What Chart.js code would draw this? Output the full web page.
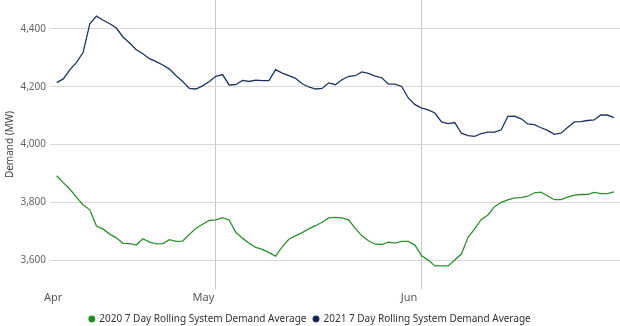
<!DOCTYPE html>
<html>
<head>
<meta charset="utf-8">
<style>
  html, body { margin: 0; padding: 0; background: #ffffff; }
  #wrap { width: 620px; height: 326px; }
</style>
<script src="https://cdn.jsdelivr.net/npm/chart.js@4.4.1/dist/chart.umd.min.js"></script>
</head>
<body>
<div id="wrap"><canvas id="chart" width="620" height="326"></canvas></div>
<script>
// Daily series start on Apr 7; x positions are days counted from Apr 1.
const firstDay = 6;

const demand2020 = [
  3892, 3868, 3845, 3818, 3791, 3774, 3718, 3707, 3690, 3677,
  3658, 3657, 3652, 3674, 3662, 3656, 3657, 3671, 3665, 3666,
  3689, 3710, 3724, 3737, 3739, 3747, 3739, 3696, 3676, 3658,
  3644, 3637, 3626, 3614, 3646, 3672, 3684, 3695, 3708, 3719,
  3731, 3746, 3748, 3746, 3739, 3710, 3684, 3667, 3655, 3654,
  3662, 3659, 3665, 3665, 3652, 3615, 3600, 3580, 3580, 3580,
  3600, 3621, 3679, 3708, 3741, 3756, 3785, 3800, 3808, 3815,
  3816, 3821, 3833, 3835, 3822, 3809, 3809, 3818, 3825, 3827,
  3827, 3834, 3830, 3830, 3836
];

const demand2021 = [
  4214, 4227, 4259, 4284, 4319, 4418, 4444, 4430, 4418, 4403,
  4372, 4351, 4328, 4314, 4297, 4287, 4275, 4261, 4238, 4218,
  4194, 4192, 4203, 4218, 4236, 4242, 4206, 4207, 4222, 4218,
  4223, 4221, 4221, 4259, 4247, 4238, 4229, 4210, 4199, 4192,
  4194, 4213, 4207, 4224, 4236, 4238, 4251, 4246, 4237, 4231,
  4209, 4209, 4201, 4161, 4138, 4126, 4120, 4109, 4078, 4072,
  4076, 4039, 4031, 4028, 4038, 4043, 4043, 4051, 4097, 4098,
  4089, 4071, 4069, 4058, 4049, 4035, 4039, 4059, 4078, 4079,
  4083, 4085, 4102, 4102, 4093
];

const seriesNames = [
  '2020 7 Day Rolling System Demand Average',
  '2021 7 Day Rolling System Demand Average'
];

const monthLabels = ['Apr', 'May', 'Jun'];
const monthTickDays = [7.35, 30, 61];   // May 1 and Jun 1 carry gridlines
const demandTicks = [3600, 3800, 4000, 4200, 4400];

const toPoints = vals => vals.map((v, i) => ({ x: firstDay + i, y: v }));

const fontFamily = '"Noto Sans", "Open Sans", sans-serif';

// Keep the plot flush with the canvas edges: no extra room for overhanging labels.
const noEdgePadding = scale => {
  scale.paddingTop = 0;
  scale.paddingBottom = 0;
  scale.paddingLeft = 0;
  scale.paddingRight = 0;
};

new Chart(document.getElementById('chart'), {
  type: 'line',
  data: {
    datasets: [
      {
        label: seriesNames[0],
        data: toPoints(demand2020),
        borderColor: '#2f8f2f',
        backgroundColor: '#1f8a1f',
        borderWidth: 1.3,
        pointRadius: 0,
        tension: 0
      },
      {
        label: seriesNames[1],
        data: toPoints(demand2021),
        borderColor: '#1f335e',
        backgroundColor: '#0f2452',
        borderWidth: 1.3,
        pointRadius: 0,
        tension: 0
      }
    ]
  },
  options: {
    responsive: false,
    animation: false,
    layout: { padding: 0 },
    plugins: {
      tooltip: { enabled: false },
      legend: {
        position: 'bottom',
        align: 'center',
        maxHeight: 19,
        labels: {
          usePointStyle: true,
          pointStyle: 'circle',
          boxWidth: 5,
          boxHeight: 4,
          padding: 7,
          color: '#333333',
          font: { family: fontFamily, size: 10 }
        }
      }
    },
    scales: {
      x: {
        type: 'linear',
        min: 5,
        max: 90.9,
        border: { display: false },
        afterBuildTicks: scale => {
          scale.ticks = monthTickDays.map(v => ({ value: v }));
        },
        afterFit: scale => { scale.height = 18; noEdgePadding(scale); },
        ticks: {
          autoSkip: false,
          maxRotation: 0,
          labelOffset: -12.5,
          padding: 2,
          color: '#555555',
          font: { family: fontFamily, size: 11 },
          callback: (value, index) => monthLabels[index]
        },
        grid: {
          drawTicks: false,
          lineWidth: 1,
          color: ctx => (ctx.tick && ctx.tick.value >= 30 ? '#c8c8c8' : 'rgba(0,0,0,0)')
        }
      },
      y: {
        min: 3500,
        max: 4500,
        border: { display: false },
        afterBuildTicks: scale => {
          scale.ticks = demandTicks.map(v => ({ value: v }));
        },
        afterFit: scale => { scale.width = 50; noEdgePadding(scale); },
        ticks: {
          padding: 4,
          color: '#666666',
          font: { family: fontFamily, size: 10 }
        },
        grid: {
          drawTicks: false,
          color: '#d9d9d9',
          lineWidth: 1
        },
        title: {
          display: true,
          text: 'Demand (MW)',
          color: '#444444',
          padding: { top: 4, bottom: 0 },
          font: { family: fontFamily, size: 10 }
        }
      }
    }
  }
});
</script>
</body>
</html>
